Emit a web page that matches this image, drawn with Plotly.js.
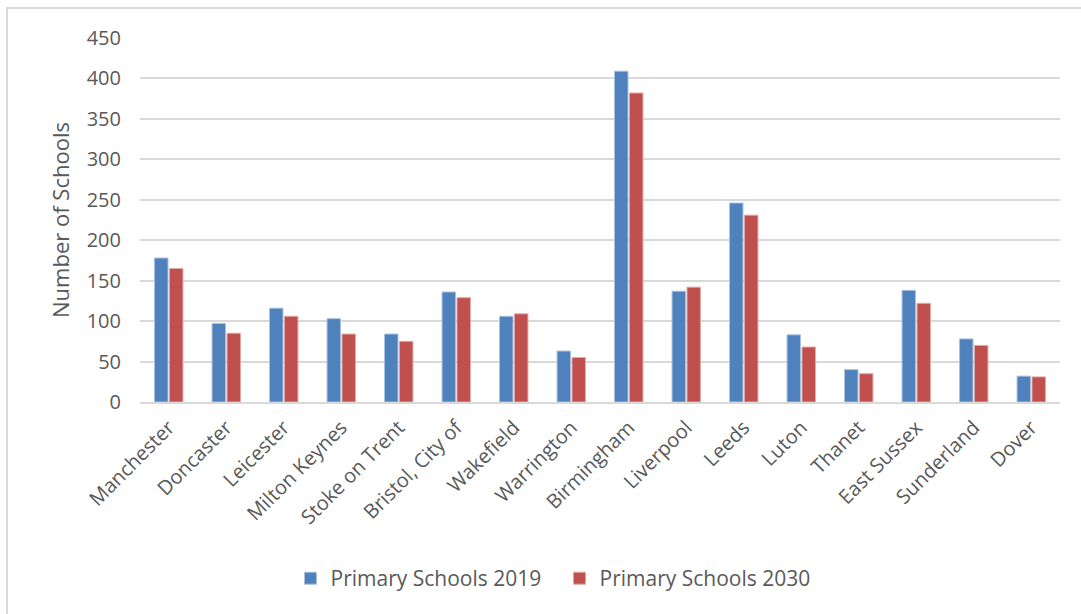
<!DOCTYPE html>
<html><head><meta charset="utf-8">
<script src="https://cdn.plot.ly/plotly-3.0.1.min.js"></script>
<style>
html,body{margin:0;padding:0;background:#fff;}
#wrap{position:relative;width:1081px;height:614px;}
#chart{width:1081px;height:614px;}
#frame{position:absolute;left:6px;top:7px;width:1200px;height:700px;border-left:2px solid #d9d9d9;border-top:2px solid #d9d9d9;pointer-events:none;}
</style></head>
<body><div id="wrap"><div id="chart"></div><div id="frame"></div></div>
<script>
const categories = ["Manchester","Doncaster","Leicester","Milton Keynes","Stoke on Trent","Bristol, City of","Wakefield","Warrington","Birmingham","Liverpool","Leeds","Luton","Thanet","East Sussex","Sunderland","Dover"];
const schools2019 = [178, 97, 116, 103, 84, 136, 106, 63, 409, 137, 246, 83, 40, 138, 78, 32];
const schools2030 = [165, 85, 106, 84, 75, 129, 109, 55, 382, 142, 231, 68, 35, 122, 70, 31];
const seriesNames = ["Primary Schools 2019", "Primary Schools 2030"];
const yTicks = [0,50,100,150,200,250,300,350,400,450];

const font = "'Open Sans', sans-serif";
const gray = "#595959";
const data = [
  {type:"bar", x:categories, y:schools2019, name:seriesNames[0],
   marker:{color:"#4f81bd", line:{color:"#a9c1e0", width:1}}, hoverinfo:"x+y"},
  {type:"bar", x:categories, y:schools2030, name:seriesNames[1],
   marker:{color:"#c0504d", line:{color:"#e2a8a6", width:1}}, hoverinfo:"x+y"}
];
const layout = {
  width:1081, height:614,
  margin:{l:140, r:21, t:38, b:212},
  paper_bgcolor:"#fff", plot_bgcolor:"#fff",
  font:{family:font, color:gray, size:20},
  barmode:"group", bargap:0.48, bargroupgap:0.1,
  showlegend:true,
  legend:{orientation:"h", x:0.456, xanchor:"center", y:-0.485, yanchor:"middle",
          font:{family:font, size:21, color:gray}, itemwidth:30, traceorder:"normal",
          entrywidth:224, entrywidthmode:"pixels"},
  xaxis:{type:"category", tickangle:-45, tickfont:{family:font, size:20, color:gray},
         showgrid:false, showline:true, linecolor:"#d9d9d9", linewidth:2, ticks:"", zeroline:false,
         ticklabelstandoff:4},
  yaxis:{range:[0,450], tickvals:yTicks, ticktext:yTicks.map(String),
         tickfont:{family:font, size:20, color:gray},
         showgrid:true, gridcolor:"#d9d9d9", gridwidth:2, zeroline:false, showline:false,
         ticks:"", ticklen:0, automargin:false, ticklabelstandoff:18,
         title:{text:"Number of Schools", font:{family:font, size:22, color:gray}, standoff:10}}
};
Plotly.newPlot("chart", data, layout, {displayModeBar:false});
</script></body></html>
